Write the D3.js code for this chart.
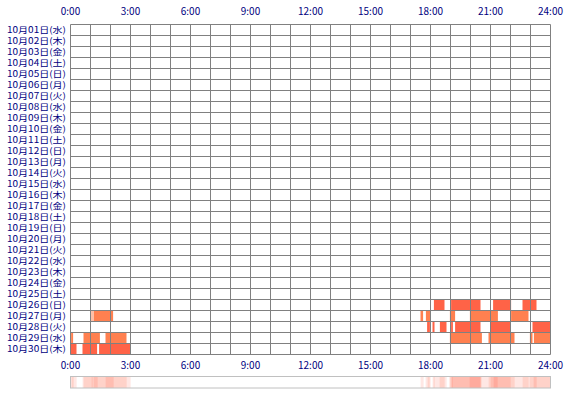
<!DOCTYPE html><html><head><meta charset="utf-8"><script src="https://cdn.jsdelivr.net/npm/d3@7"></script>
<style>body{margin:0;background:#fff}text{font-family:"Noto Sans CJK JP",sans-serif;font-size:10px;fill:#000080}</style></head><body><svg id="c" width="570" height="400"></svg><script>
const days=["10月01日(水)","10月02日(木)","10月03日(金)","10月04日(土)","10月05日(日)","10月06日(月)","10月07日(火)","10月08日(水)","10月09日(木)","10月10日(金)","10月11日(土)","10月12日(日)","10月13日(月)","10月14日(火)","10月15日(水)","10月16日(木)","10月17日(金)","10月18日(土)","10月19日(日)","10月20日(月)","10月21日(火)","10月22日(水)","10月23日(木)","10月24日(金)","10月25日(土)","10月26日(日)","10月27日(月)","10月28日(火)","10月29日(水)","10月30日(木)"];
const tickLabels=["0:00","3:00","6:00","9:00","12:00","15:00","18:00","21:00","24:00"];
// [dayIndex, startHour, endHour, shade]
const segments=[
[25,18.17,18.7,1],[25,19.03,20.5,1],[25,21.13,22.03,1],[25,22.6,23.3,1],
[26,1.05,1.1,0],[26,1.15,2.13,0],[26,17.5,17.63,0],[26,17.77,18.0,0],[26,18.97,19.23,0],[26,19.97,21.37,0],[26,22.03,22.9,0],
[27,17.83,17.97,1],[27,18.1,18.2,1],[27,18.47,18.8,1],[27,19.03,19.12,1],[27,19.23,20.5,1],[27,21,22,1],[27,23.1,24,1],
[28,0.03,0.13,0],[28,0.65,1.47,0],[28,1.75,2.8,0],[28,18.97,20.57,0],[28,20.9,22.2,0],[28,22.97,23.1,0],[28,23.17,24,0],
[29,0,0.3,1],[29,0.6,1.33,1],[29,1.43,3.0,1]];
const colors=["#ff8050","#ff6347"];
const svg=d3.select("#c");
const x=d3.scaleLinear().domain([0,24]).range([70.5,550.5]);
const y=d3.scaleBand().domain(days).range([24.5,354.5]);
svg.selectAll("rect.s").data(segments).join("rect").attr("x",d=>x(d[1])).attr("width",d=>x(d[2])-x(d[1]))
 .attr("y",d=>y(days[d[0]])).attr("height",y.bandwidth()).attr("fill",d=>colors[d[3]]);
const g=svg.append("g").attr("stroke","#808080").attr("stroke-width",1);
d3.range(25).forEach(h=>g.append("line").attr("x1",x(h)).attr("x2",x(h)).attr("y1",24.5).attr("y2",354.5));
d3.range(31).forEach(i=>{const yy=24.5+i*y.step();g.append("line").attr("x1",70.5).attr("x2",550.5).attr("y1",yy).attr("y2",yy);});
svg.selectAll("text.d").data(days).join("text").attr("x",66).attr("y",d=>y(d)+y.bandwidth()/2+3.3).attr("text-anchor","end")
 .style("font-size","8.5px").attr("textLength",59).attr("lengthAdjust","spacingAndGlyphs").text(d=>d);
tickLabels.forEach((t,i)=>{[15,369].forEach(yy=>svg.append("text").attr("x",x(i*3)).attr("y",yy).attr("text-anchor","middle").text(t));});
// heat bar from data
const bins=d3.range(0,24,0.05);
const dens=bins.map(b=>segments.filter(s=>s[1]<b+0.025&&s[2]>b+0.025).length);
svg.selectAll("rect.h").data(bins).join("rect").attr("x",(b)=>x(b)).attr("width",x(0.05)-x(0)+0.3).attr("y",376).attr("height",12)
 .attr("fill","#ff6347").attr("fill-opacity",(b,i)=>dens[i]*0.12);
svg.append("rect").attr("x",70.5).attr("y",376.5).attr("width",480).attr("height",11.5).attr("fill","none").attr("stroke","#c0c0c0");
</script></body></html>
